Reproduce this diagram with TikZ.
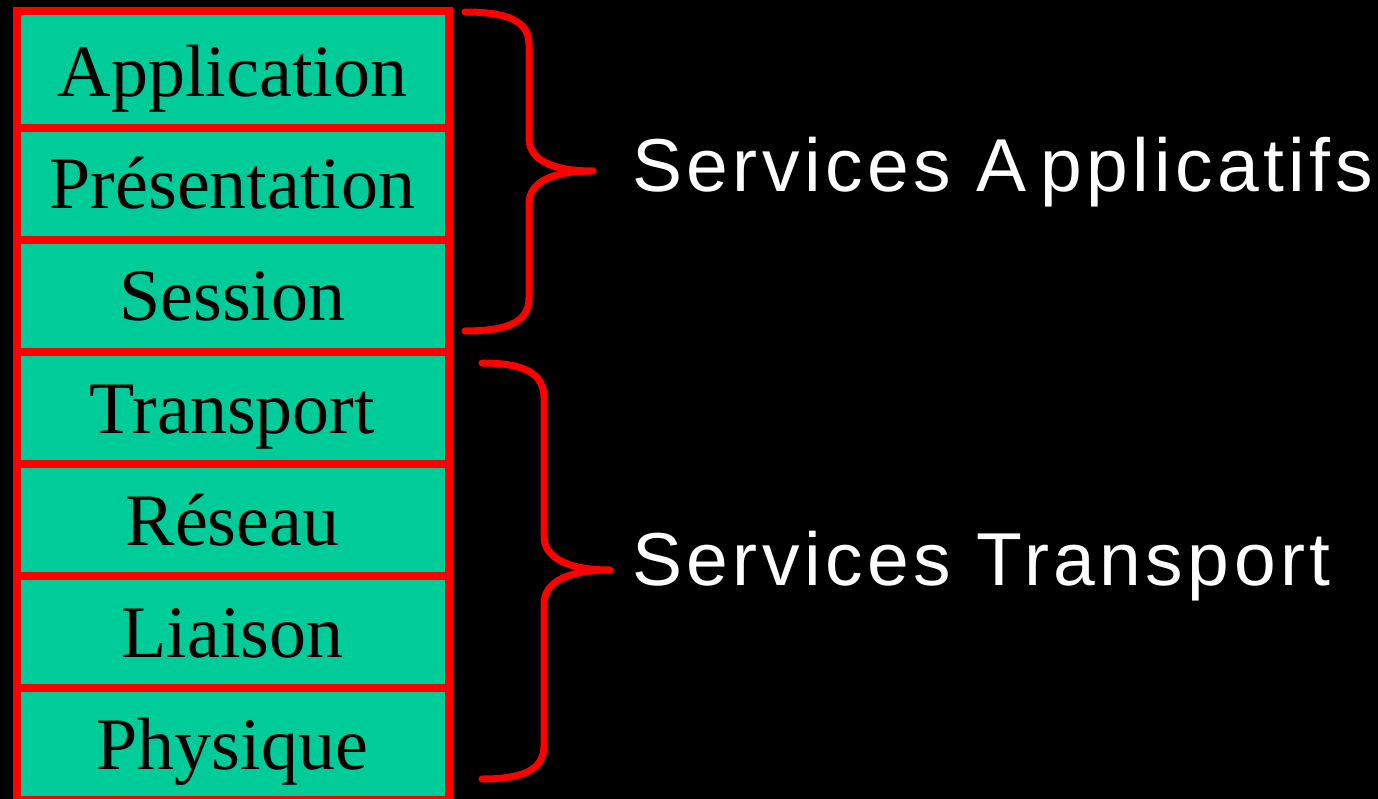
\documentclass[tikz,border=0pt]{standalone}
\usepackage{fontspec}
\setmainfont{Liberation Serif}
\newfontfamily\labelfont[LetterSpace=6]{Liberation Sans}
\definecolor{layerfill}{RGB}{0,204,153}
\definecolor{edgered}{RGB}{255,0,0}
\tikzset{
  layer/.style={draw=edgered, line width=8pt, fill=layerfill, rectangle,
    minimum width=432pt, minimum height=112pt, inner sep=0pt,
    text height=60pt, text depth=10pt,
    font=\fontsize{74}{80}\selectfont, text=black},
  brace/.style={draw=edgered, line width=7pt, line cap=round, line join=round},
  group/.style={anchor=base west, inner sep=0pt, text=white,
    font=\labelfont\fontsize{75}{80}\selectfont}
}
\begin{document}
\begin{tikzpicture}[x=1pt,y=-1pt]
  \useasboundingbox (0,0) rectangle (1378,799);
  \fill[black] (0,0) rectangle (1378,799);

  % protocol stack, top to bottom
  \node[layer, minimum height=117pt, text depth=5pt] (app) at (232.5,69.5) {Application};
  \node[layer] (pres) at (232.5,184) {Présentation};
  \node[layer] (sess) at (232.5,296) {Session};
  \node[layer] (trans) at (232.5,408) {Transport};
  \node[layer] (res) at (232.5,520) {Réseau};
  \node[layer] (liai) at (232.5,632) {Liaison};
  \node[layer] (phys) at (232.5,744) {Physique};

  % upper brace
  \coordinate (b1top) at (465,12);
  \coordinate (b1tip) at (593,171);
  \coordinate (b1bot) at (465,331);
  \draw[brace] (b1top) .. controls (510,12) and (529,22) .. (529,45)
    -- (529,138) .. controls (529,160) and (552,171) .. (b1tip)
    .. controls (552,171) and (529,182) .. (529,204)
    -- (529,298) .. controls (529,321) and (510,331) .. (b1bot);

  % lower brace
  \coordinate (b2top) at (482,363);
  \coordinate (b2tip) at (610,570);
  \coordinate (b2bot) at (482,779);
  \draw[brace] (b2top) .. controls (527,363) and (544,375) .. (544,398)
    -- (544,536) .. controls (544,558) and (568,570) .. (b2tip)
    .. controls (568,570) and (544,582) .. (544,604)
    -- (544,745) .. controls (544,768) and (527,779) .. (b2bot);

  \node[group] (appsvc) at (632,192) {Services A\hspace{14pt}pplicatifs};
  \node[group] (transvc) at (632,585) {Services Transport};
\end{tikzpicture}
\end{document}
